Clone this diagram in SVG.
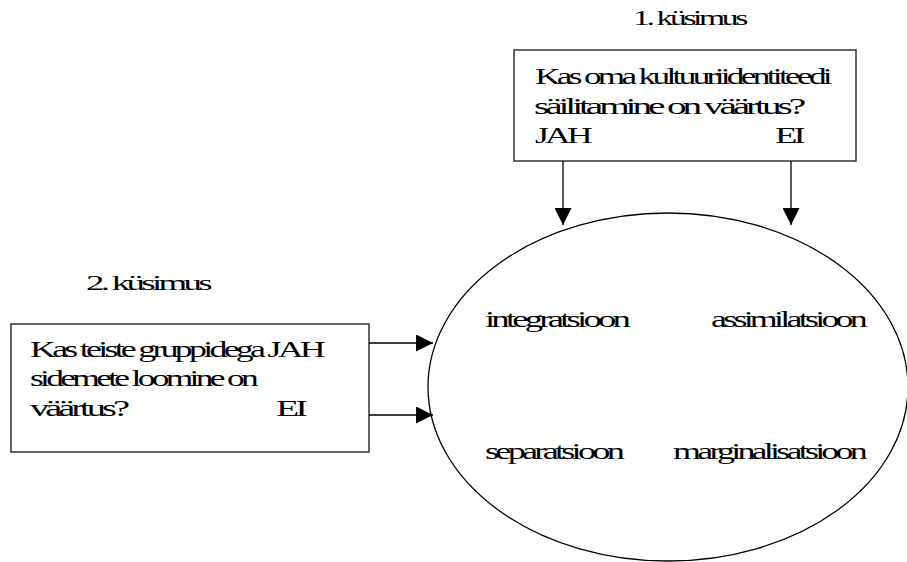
<svg xmlns="http://www.w3.org/2000/svg" width="907" height="562" viewBox="0 0 907 562">
<style>
  text { font-family: "Liberation Serif", "Times New Roman", serif; fill: #000; letter-spacing: -2.4px; }
  .t { font-size: 23px; }
  .h { font-size: 20px; letter-spacing: -2px; }
  .box { fill: #fff; stroke: #333; stroke-width: 1.5; }
  .conn { stroke: #000; stroke-width: 1.3; fill: none; marker-end: url(#arr); }
  .ell { fill: #fff; stroke: #000; stroke-width: 1.3; }
</style>
<defs>
  <marker id="arr" markerUnits="userSpaceOnUse" markerWidth="17" markerHeight="17" refX="17" refY="8.5" orient="auto">
    <path d="M0,0 L17,8.5 L0,17 Z" fill="#000"/>
  </marker>
</defs>
<rect width="907" height="562" fill="#fff"/>

<g id="title1">
  <text class="h" x="633" y="25" textLength="112" lengthAdjust="spacingAndGlyphs">1. küsimus</text>
</g>
<g id="title2">
  <text class="h" x="86" y="290" textLength="123" lengthAdjust="spacingAndGlyphs">2. küsimus</text>
</g>

<g id="ellipse">
  <ellipse class="ell" cx="668" cy="387" rx="240" ry="174"/>
  <text class="t" x="485" y="327" textLength="142" lengthAdjust="spacingAndGlyphs">integratsioon</text>
  <text class="t" x="711" y="327" textLength="153" lengthAdjust="spacingAndGlyphs">assimilatsioon</text>
  <text class="t" x="485" y="459" textLength="136" lengthAdjust="spacingAndGlyphs">separatsioon</text>
  <text class="t" x="673" y="459" textLength="191" lengthAdjust="spacingAndGlyphs">marginalisatsioon</text>
</g>

<g id="question1">
  <rect class="box" x="514" y="50" width="342" height="111"/>
  <text class="t" x="535" y="84" textLength="294" lengthAdjust="spacingAndGlyphs">Kas oma kultuuriidentiteedi</text>
  <text class="t" x="534" y="114" textLength="268" lengthAdjust="spacingAndGlyphs">säilitamine on väärtus?</text>
  <text class="t" x="535" y="143" textLength="54" lengthAdjust="spacingAndGlyphs">JAH</text>
  <text class="t" x="775" y="143" textLength="27" lengthAdjust="spacingAndGlyphs">EI</text>
</g>

<g id="question2">
  <rect class="box" x="11" y="324" width="358" height="128"/>
  <text class="t" x="30" y="357" textLength="292" lengthAdjust="spacingAndGlyphs">Kas teiste gruppidega JAH</text>
  <text class="t" x="30" y="386" textLength="225" lengthAdjust="spacingAndGlyphs">sidemete loomine on</text>
  <text class="t" x="30" y="416" textLength="96" lengthAdjust="spacingAndGlyphs">väärtus?</text>
  <text class="t" x="276" y="416" textLength="28" lengthAdjust="spacingAndGlyphs">EI</text>
</g>

<g id="connectors">
  <line class="conn" x1="563" y1="161" x2="563" y2="225"/>
  <line class="conn" x1="791" y1="161" x2="791" y2="225"/>
  <line class="conn" x1="369" y1="343" x2="433" y2="343"/>
  <line class="conn" x1="369" y1="415" x2="433" y2="415"/>
</g>
</svg>
